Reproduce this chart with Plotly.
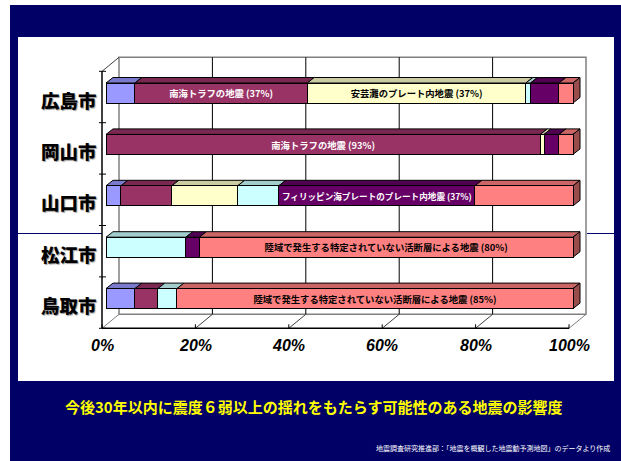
import plotly.graph_objects as go

# ---------------- data ----------------
cities = ["広島市", "岡山市", "山口市", "松江市", "鳥取市"]
series_names = ["その他の地震", "南海トラフの地震", "安芸灘のプレート内地震",
                "その他の活断層", "フィリッピン海プレートのプレート内地震",
                "陸域で発生する特定されていない活断層による地震"]
s_blue    = [6.2, 0.0, 3.2, 0.0, 6.2]
s_nankai  = [36.9, 93.0, 10.9, 0.0, 4.9]
s_aki     = [46.8, 0.8, 14.1, 0.0, 0.0]
s_cyan    = [1.0, 0.0, 8.8, 17.1, 4.1]
s_phil    = [6.1, 3.2, 42.0, 2.9, 0.0]
s_land    = [3.0, 3.0, 21.0, 80.0, 84.8]

lab_blue   = ["", "", "", "", ""]
lab_nankai = ["南海トラフの地震 (37%)", "南海トラフの地震 (93%)", "", "", ""]
lab_aki    = ["安芸灘のプレート内地震 (37%)", "", "", "", ""]
lab_cyan   = ["", "", "", "", ""]
lab_phil   = ["", "", "フィリッピン海プレートのプレート内地震 (37%)", "", ""]
lab_land   = ["", "", "", "陸域で発生する特定されていない活断層による地震 (80%)",
              "陸域で発生する特定されていない活断層による地震 (85%)"]

x_ticks = [0, 20, 40, 60, 80, 100]
x_tick_labels = ["0%", "20%", "40%", "60%", "80%", "100%"]

title_text = "今後30年以内に震度６弱以上の揺れをもたらす可能性のある地震の影響度"
source_text = "地震調査研究推進部：「地震を概観した地震動予測地図」のデータより作成"

colors = ["#9999FF", "#993366", "#FFFFCC", "#CCFFFF", "#660066", "#FF8080"]
txt_colors = ["black", "white", "black", "black", "white", "black"]
series = [s_blue, s_nankai, s_aki, s_cyan, s_phil, s_land]
labels = [lab_blue, lab_nankai, lab_aki, lab_cyan, lab_phil, lab_land]

# ---------------- geometry ----------------
W, H = 621, 461
PX_PCT = 4.67     # pixels per percent
PX_BAND = 51.4    # pixels per category band
X0_PX, Y0_PX = 106, 93
BAR_W = 20 / PX_BAND
DEPTH = (7, -5.5)         # bar depth offset in px
FRONT = (-4, 4)           # front plane offset from bar plane (px)
BACK = (13, -10)          # back plane offset (px)

def P(v, k, off=(0, 0)):
    return (v + off[0] / PX_PCT, k + off[1] / PX_BAND)

def path(pts):
    return "M " + " L ".join(f"{x:.4f},{y:.4f}" for x, y in pts) + " Z"

def shade(hexc, f):
    h = hexc.lstrip("#")
    r, g, b = (int(h[i:i + 2], 16) for i in (0, 2, 4))
    return "rgb({},{},{})".format(int(r * f), int(g * f), int(b * f))

n = len(cities)
yk = list(range(n))
k_top, k_bot = -0.5, n - 0.5

shapes = []
# navy background & white panel (paper)
shapes.append(dict(type="rect", xref="paper", yref="paper", x0=10 / W, x1=1, y0=0,
                   y1=1 - 5 / H, fillcolor="#000066", line_width=0, layer="below"))
shapes.append(dict(type="rect", xref="paper", yref="paper", x0=18 / W, x1=614 / W,
                   y0=1 - 381 / H, y1=1 - 37 / H, fillcolor="white", line_width=0, layer="below"))
# separator line (Sanyo / San'in)
for xa, xb in [(18, 102), (587, 614)]:
    shapes.append(dict(type="line", xref="paper", yref="paper", x0=xa / W, x1=xb / W,
                       y0=1 - 233.5 / H, y1=1 - 233.5 / H, line=dict(color="#000066", width=1),
                       layer="below"))

wall_gray = "#808080"
# back wall
bw = [P(0, k_top, BACK), P(100, k_top, BACK), P(100, k_bot, BACK), P(0, k_bot, BACK)]
shapes.append(dict(type="path", path=path(bw), xref="x", yref="y", fillcolor="white",
                   line=dict(color=wall_gray, width=1.5), layer="below"))
for v in x_ticks[1:-1]:
    a, b = P(v, k_top, BACK), P(v, k_bot, BACK)
    shapes.append(dict(type="line", xref="x", yref="y", x0=a[0], y0=a[1], x1=b[0], y1=b[1],
                       line=dict(color="black", width=1), layer="below"))
# floor diagonals
for v in x_ticks:
    a, b = P(v, k_bot, FRONT), P(v, k_bot, BACK)
    shapes.append(dict(type="line", xref="x", yref="y", x0=a[0], y0=a[1], x1=b[0], y1=b[1],
                       line=dict(color=wall_gray if v in (0, 100) else "#404040", width=1),
                       layer="below"))
    t = P(v, k_bot, (FRONT[0], FRONT[1] - 4))
    shapes.append(dict(type="line", xref="x", yref="y", x0=a[0], y0=a[1], x1=t[0], y1=t[1],
                       line=dict(color="black", width=1), layer="below"))
# left wall top diagonal
a, b = P(0, k_top, FRONT), P(0, k_top, BACK)
shapes.append(dict(type="line", xref="x", yref="y", x0=a[0], y0=a[1], x1=b[0], y1=b[1],
                   line=dict(color="#404040", width=1), layer="below"))
# front axes
a, b = P(0, k_top, FRONT), P(0, k_bot, FRONT)
shapes.append(dict(type="line", xref="x", yref="y", x0=a[0], y0=a[1], x1=b[0], y1=b[1],
                   line=dict(color="black", width=1.5), layer="below"))
a, b = P(0, k_bot, FRONT), P(100, k_bot, FRONT)
shapes.append(dict(type="line", xref="x", yref="y", x0=a[0], y0=a[1], x1=b[0], y1=b[1],
                   line=dict(color="black", width=1.5), layer="below"))
for kk in [k_top + i for i in range(n + 1)]:
    a, b = P(0, kk, (FRONT[0] - 3, FRONT[1])), P(0, kk, (FRONT[0] + 4, FRONT[1]))
    shapes.append(dict(type="line", xref="x", yref="y", x0=a[0], y0=a[1], x1=b[0], y1=b[1],
                       line=dict(color="black", width=1), layer="below"))

# bar 3D faces
for ci in range(n):
    cum = 0.0
    vals = [s[ci] for s in series]
    last = max(i for i, v in enumerate(vals) if v > 0)
    yt, yb = ci - BAR_W / 2, ci + BAR_W / 2
    for si, v in enumerate(vals):
        if v <= 0:
            continue
        x0, x1 = cum, cum + v
        top = [P(x0, yt), P(x1, yt), P(x1, yt, DEPTH), P(x0, yt, DEPTH)]
        shapes.append(dict(type="path", path=path(top), xref="x", yref="y",
                           fillcolor=shade(colors[si], 0.8), line=dict(color="black", width=1),
                           layer="below"))
        if si == last:
            side = [P(x1, yt), P(x1, yt, DEPTH), P(x1, yb, DEPTH), P(x1, yb)]
            shapes.append(dict(type="path", path=path(side), xref="x", yref="y",
                               fillcolor=shade(colors[si], 0.6), line=dict(color="black", width=1),
                               layer="below"))
        cum = x1

fig = go.Figure()
for si in range(len(series)):
    fig.add_trace(go.Bar(
        y=yk, x=series[si], orientation="h", width=BAR_W, name=series_names[si],
        marker=dict(color=colors[si], line=dict(color="black", width=1)),
        text=labels[si], textposition="inside", insidetextanchor="middle", textangle=0,
        textfont=dict(family="Noto Sans CJK JP", size=10, color=txt_colors[si], weight="bold"),
        hoverinfo="skip",
    ))

annotations = []
for ci, c in enumerate(cities):
    xa, ya = P(0, ci, (-7, FRONT[1] + 2.5))
    annotations.append(dict(x=xa, y=ya, xref="x", yref="y", text=c, showarrow=False,
                            xanchor="right", yanchor="middle",
                            font=dict(family="Noto Sans CJK JP", size=18.5, color="black",
                                      weight=900, shadow="1px 1px 1px #9a9a9a")))
for v, t in zip(x_ticks, x_tick_labels):
    xa, ya = P(v, k_bot, (FRONT[0], FRONT[1] + 17))
    annotations.append(dict(x=xa, y=ya, xref="x", yref="y", text=t, showarrow=False,
                            xanchor="center", yanchor="middle",
                            font=dict(family="Liberation Sans Narrow, Liberation Sans, Arial",
                                      size=16, color="black", weight="bold", style="italic")))
annotations.append(dict(x=313 / W, y=1 - 406 / H, xref="paper", yref="paper", text=title_text,
                        showarrow=False, xanchor="center", yanchor="middle",
                        font=dict(family="Noto Sans CJK JP", size=15, color="#FFFF00", weight="bold")))
annotations.append(dict(x=612 / W, y=1 - 448 / H, xref="paper", yref="paper", text=source_text,
                        showarrow=False, xanchor="right", yanchor="middle",
                        font=dict(family="Noto Sans CJK JP", size=7, color="white")))

fig.update_layout(
    width=W, height=H, margin=dict(l=0, r=0, t=0, b=0),
    paper_bgcolor="white", plot_bgcolor="rgba(0,0,0,0)",
    barmode="stack", showlegend=False,
    xaxis=dict(range=[-X0_PX / PX_PCT, (W - X0_PX) / PX_PCT], visible=False, fixedrange=True),
    yaxis=dict(range=[(H - Y0_PX) / PX_BAND, -Y0_PX / PX_BAND], visible=False, fixedrange=True),
    shapes=shapes, annotations=annotations,
)
fig.write_html("out.html")
